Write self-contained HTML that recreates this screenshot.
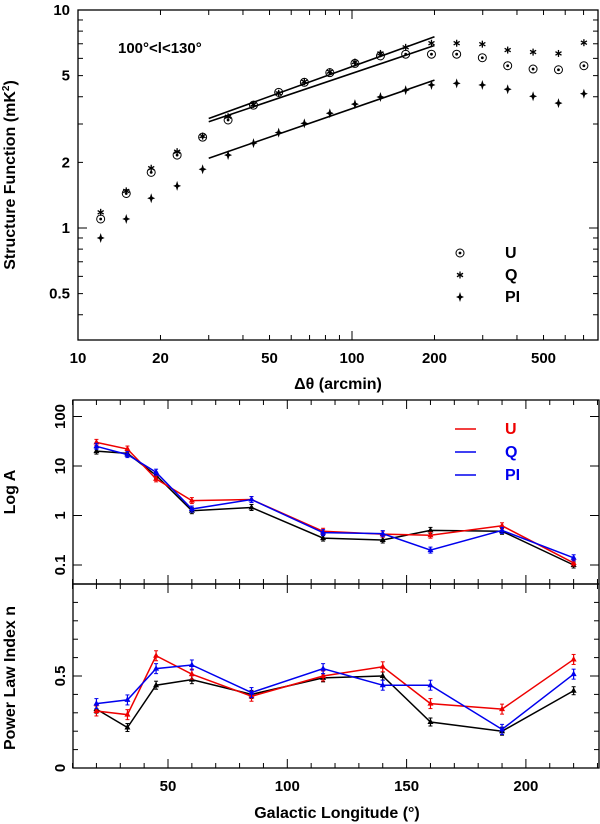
<!DOCTYPE html>
<html><head><meta charset="utf-8"><style>
html,body{margin:0;padding:0;background:#fff}
svg{display:block;font-family:"Liberation Sans",sans-serif}
</style></head><body>
<svg id="c" width="600" height="824" viewBox="0 0 600 824" xmlns="http://www.w3.org/2000/svg"></svg>
<script>
// ---- Top panel data ----
const sfSep = [12.1,15,18.5,23,28.5,35.3,43.7,54,67,83,102.5,127,157,195,241,299,370,458,567,702];
const sfU = [1.10,1.44,1.80,2.16,2.61,3.13,3.66,4.19,4.66,5.16,5.69,6.16,6.27,6.27,6.27,6.04,5.55,5.36,5.32,5.55];
const sfQ = [1.18,1.48,1.88,2.24,2.64,3.24,3.69,4.15,4.69,5.21,5.77,6.32,6.74,7.04,7.04,6.97,6.55,6.41,6.32,7.08];
const sfPI = [0.90,1.10,1.37,1.56,1.86,2.16,2.45,2.74,3.02,3.36,3.70,3.99,4.29,4.53,4.61,4.53,4.33,4.02,3.74,4.13];
const fitX = [30,200];
const fitU = [3.07,6.87];
const fitQ = [3.18,7.54];
const fitPI = [2.09,4.77];
const topXTicks = [10,20,50,100,200,500];
const topYTicks = [0.5,1,2,5,10];
// ---- Bottom panels data ----
const lon = [20,33,45,60,85,115,140,160,190,220];
const ampPI = [20,18,6.5,1.25,1.45,0.35,0.32,0.5,0.48,0.1];
const ampU = [30,22,5.5,2.0,2.1,0.48,0.42,0.4,0.62,0.11];
const ampQ = [25,17,7.5,1.35,2.1,0.45,0.43,0.2,0.5,0.14];
const idxPI = [0.32,0.22,0.45,0.48,0.40,0.49,0.50,0.25,0.20,0.42];
const idxU = [0.31,0.29,0.61,0.51,0.39,0.50,0.55,0.35,0.32,0.59];
const idxQ = [0.35,0.37,0.54,0.56,0.41,0.54,0.45,0.45,0.21,0.51];
const lonTicks = [50,100,150,200];
const ampTicks = [0.1,1,10,100];
const idxTicks = [0,0.5];

const S = document.getElementById('c');
const NS = 'http://www.w3.org/2000/svg';
function mk(tag, attrs, parent){const e=document.createElementNS(NS,tag);for(const k in attrs)e.setAttribute(k,attrs[k]);(parent||S).appendChild(e);return e;}
function txt(s,x,y,opt,parent){const e=mk('text',Object.assign({x:x,y:y,'font-size':15,'font-weight':'bold','text-anchor':'middle',fill:'#000'},opt||{}),parent);e.textContent=s;return e;}

// Top axes
const TL=78,TR=598,TT=10,TB=340;
const tx = v => TL + (Math.log10(v)-1)*274;
const ty = v => 228 - Math.log10(v)*218;
const topG = mk('g',{});


mk('rect',{x:TL,y:TT,width:TR-TL,height:TB-TT,fill:'none',stroke:'#000','stroke-width':1.3},topG);
for(let d=10;d<=1000;d*=10){for(let m=1;m<10;m++){const v=d*m;const x=tx(v);if(x<TL-0.5||x>TR)continue;const L=m===1?9:5;
 mk('line',{x1:x,y1:TB,x2:x,y2:TB-L,stroke:'#000','stroke-width':1},topG);mk('line',{x1:x,y1:TT,x2:x,y2:TT+L,stroke:'#000','stroke-width':1},topG);}}
for(let d=0.1;d<=10;d*=10){for(let m=1;m<10;m++){const v=d*m;const y=ty(v);if(y<TT-0.5||y>TB)continue;const L=m===1?9:5;
 mk('line',{x1:TL,y1:y,x2:TL+L,y2:y,stroke:'#000','stroke-width':1},topG);mk('line',{x1:TR,y1:y,x2:TR-L,y2:y,stroke:'#000','stroke-width':1},topG);}}
topXTicks.forEach(v=>{const t=txt(String(v),tx(v),363,{},topG);});
topYTicks.forEach(v=>{const t=txt(String(v),70,ty(v)+5,{'text-anchor':'end'},topG);});
let t1=txt('Δθ (arcmin)',338,389,{'font-size':16},topG);
let t2=mk('text',{x:0,y:0,'font-size':16,'font-weight':'bold','text-anchor':'middle',transform:'translate(15,175) rotate(-90)'},topG);
t2.textContent='Structure Function (mK';
const sup=mk('tspan',{'font-size':10,dy:-6},t2);sup.textContent='2';
const cl=mk('tspan',{dy:6},t2);cl.textContent=')';

let t3=txt('100°<l<130°',118,53,{'font-size':15,'text-anchor':'start'},topG);

function mU(x,y,p){mk('circle',{cx:x,cy:y,r:4,fill:'none',stroke:'#000','stroke-width':1},p);mk('circle',{cx:x,cy:y,r:1.4,fill:'#000'},p);}
function mQ(x,y,p){for(let a=0;a<3;a++){const an=a*Math.PI/3+Math.PI/2;mk('line',{x1:x-3.5*Math.cos(an),y1:y-3.5*Math.sin(an),x2:x+3.5*Math.cos(an),y2:y+3.5*Math.sin(an),stroke:'#000','stroke-width':1.3},p);}}
function mP(x,y,p){mk('path',{d:`M${x} ${y-5}L${x+1.2} ${y-1.2}L${x+4} ${y}L${x+1.2} ${y+1.2}L${x} ${y+5}L${x-1.2} ${y+1.2}L${x-4} ${y}L${x-1.2} ${y-1.2}Z`,fill:'#000'},p);}
const sU=mk('g',{},topG);
const sQ=mk('g',{},topG);
const sP=mk('g',{},topG);
sfSep.forEach((x,i)=>{mQ(tx(x),ty(sfQ[i]),sQ);mU(tx(x),ty(sfU[i]),sU);mP(tx(x),ty(sfPI[i]),sP);});
[[fitU,'fit-line-u'],[fitQ,'fit-line-q'],[fitPI,'fit-line-pi']].forEach(([f,n])=>{const l=mk('line',{x1:tx(fitX[0]),y1:ty(f[0]),x2:tx(fitX[1]),y2:ty(f[1]),stroke:'#000','stroke-width':1.6},topG);});
const lg=mk('g',{},topG);
mU(460,253,lg);mQ(460,275,lg);mP(460,297,lg);
txt('U',505,258,{'text-anchor':'start','font-size':16},lg);txt('Q',505,280,{'text-anchor':'start','font-size':16},lg);txt('PI',505,302,{'text-anchor':'start','font-size':16},lg);

// Bottom panels
const BL=73,BR=599,MT=400,MB=584,PB=768;
const bx = v => 48.7 + v*2.386;
const ay = v => 565 - (Math.log10(v)+1)*49.5;
const iy = v => PB - v*184;
const midG=mk('g',{});
const botG=mk('g',{});
mk('rect',{x:BL,y:MT,width:BR-BL,height:MB-MT,fill:'none',stroke:'#000','stroke-width':1.3},midG);
mk('rect',{x:BL,y:MB,width:BR-BL,height:PB-MB,fill:'none',stroke:'#000','stroke-width':1.3},botG);
for(let v=10;v<=230;v+=10){const x=bx(v);const L=v%50===0?9:5;
 [[MT,1],[MB,-1],[MB,1],[PB,-1]].forEach(([y,s])=>mk('line',{x1:x,y1:y,x2:x,y2:y+s*L,stroke:'#000','stroke-width':1}));}
ampTicks.forEach(v=>{const y=ay(v);mk('line',{x1:BL,y1:y,x2:BL+9,y2:y,stroke:'#000'},midG);mk('line',{x1:BR,y1:y,x2:BR-9,y2:y,stroke:'#000'},midG);
 const t=mk('text',{x:0,y:0,'font-size':15,'font-weight':'bold','text-anchor':'middle',transform:`translate(65,${y}) rotate(-90)`},midG);t.textContent=String(v);});
for(let k=1;k<10;k++){const v=k/10;const y=iy(v);const L=k===5?9:5;mk('line',{x1:BL,y1:y,x2:BL+L,y2:y,stroke:'#000'},botG);mk('line',{x1:BR,y1:y,x2:BR-L,y2:y,stroke:'#000'},botG);}
idxTicks.forEach(v=>{const t=mk('text',{x:0,y:0,'font-size':15,'font-weight':'bold','text-anchor':'middle',transform:`translate(65,${iy(v)}) rotate(-90)`},botG);t.textContent=String(v);});
lonTicks.forEach(v=>{const t=txt(String(v),bx(v),791,{},botG);});
let t4=txt('Galactic Longitude (°)',337,818,{'font-size':16},botG);
let t5=mk('text',{x:0,y:0,'font-size':16,'font-weight':'bold','text-anchor':'middle',transform:'translate(15,492) rotate(-90)'},midG);t5.textContent='Log A';
let t6=mk('text',{x:0,y:0,'font-size':16,'font-weight':'bold','text-anchor':'middle',transform:'translate(15,678) rotate(-90)'},botG);t6.textContent='Power Law Index n';

function series(vals,yf,col,parent,name,err){
 const g=mk('g',{},parent);
 mk('polyline',{points:lon.map((v,i)=>bx(v)+','+yf(vals[i])).join(' '),fill:'none',stroke:col,'stroke-width':1.5},g);
 lon.forEach((v,i)=>{const x=bx(v),y=yf(vals[i]);
  mk('line',{x1:x,y1:y-err,x2:x,y2:y+err,stroke:col,'stroke-width':1.2},g);
  mk('line',{x1:x-2,y1:y-err,x2:x+2,y2:y-err,stroke:col},g);mk('line',{x1:x-2,y1:y+err,x2:x+2,y2:y+err,stroke:col},g);
  mk('path',{d:`M${x} ${y-3.5}L${x+3} ${y+2}L${x-3} ${y+2}Z`,fill:col},g);});
}
series(ampPI,ay,'#000',midG,'amplitude-pi',3);
series(ampU,ay,'#e00',midG,'amplitude-u',3);
series(ampQ,ay,'#00e',midG,'amplitude-q',3);
series(idxPI,iy,'#000',botG,'index-pi',4);
series(idxU,iy,'#e00',botG,'index-u',5);
series(idxQ,iy,'#00e',botG,'index-q',5);
const lg2=mk('g',{},midG);
[['U','#e00',429],['Q','#00e',452],['PI','#00e',475]].forEach(([s,c,y])=>{mk('line',{x1:455,y1:y,x2:476,y2:y,stroke:c,'stroke-width':1.5},lg2);txt(s,505,y+5,{fill:c,'text-anchor':'start','font-size':16},lg2);});
</script>
</body></html>
